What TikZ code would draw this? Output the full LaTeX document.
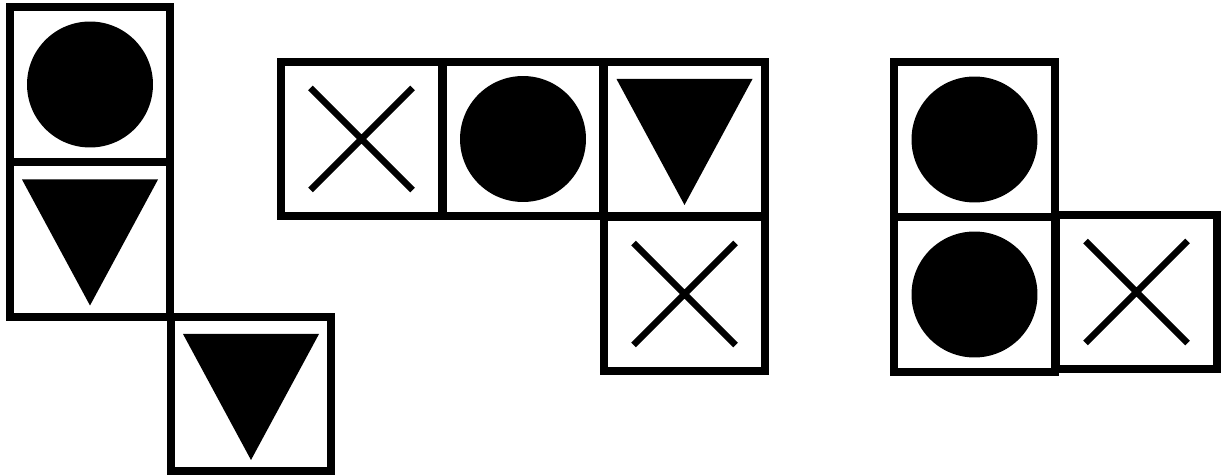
\documentclass[tikz,border=0pt]{standalone}
\usepackage{tikz}
\usetikzlibrary{positioning}
\tikzset{
  cell/.style={rectangle, draw=black, line width=0.16cm, fill=white,
    minimum width=3.22cm, minimum height=3.1cm, inner sep=0pt},
  crossline/.style={draw=black, line width=0.13cm},
}
\newcommand{\dotmark}[1]{\fill[black] (#1.center) circle (1.26cm);}
\newcommand{\trimark}[1]{\fill[black] ([shift={(-68,-60)}]#1.center) -- ([shift={(68,-60)}]#1.center)
  -- ([shift={(0,66)}]#1.center) -- cycle;}
\newcommand{\crossmark}[1]{\draw[crossline] ([shift={(-51,-51)}]#1.center) -- ([shift={(51,51)}]#1.center)
  ([shift={(-51,51)}]#1.center) -- ([shift={(51,-51)}]#1.center);}

\begin{document}
\begin{tikzpicture}[x=0.02cm, y=-0.02cm]
  \useasboundingbox (0,0) rectangle (1225,476);
  % cells: name / centre
  \foreach \n/\x/\y in {cA/90/84.5, cB/90/239.5, cC/251/394,
      cD/361.5/139, cE/523/139, cF/684.5/139, cG/684.5/294,
      cH/974.5/139.5, cI/974.5/294.5, cJ/1136.5/292}
    \node[cell] (\n) at (\x,\y) {};
  % marks
  \dotmark{cA}
  \trimark{cB}
  \trimark{cC}
  \crossmark{cD}
  \dotmark{cE}
  \trimark{cF}
  \crossmark{cG}
  \dotmark{cH}
  \dotmark{cI}
  \crossmark{cJ}
\end{tikzpicture}
\end{document}
